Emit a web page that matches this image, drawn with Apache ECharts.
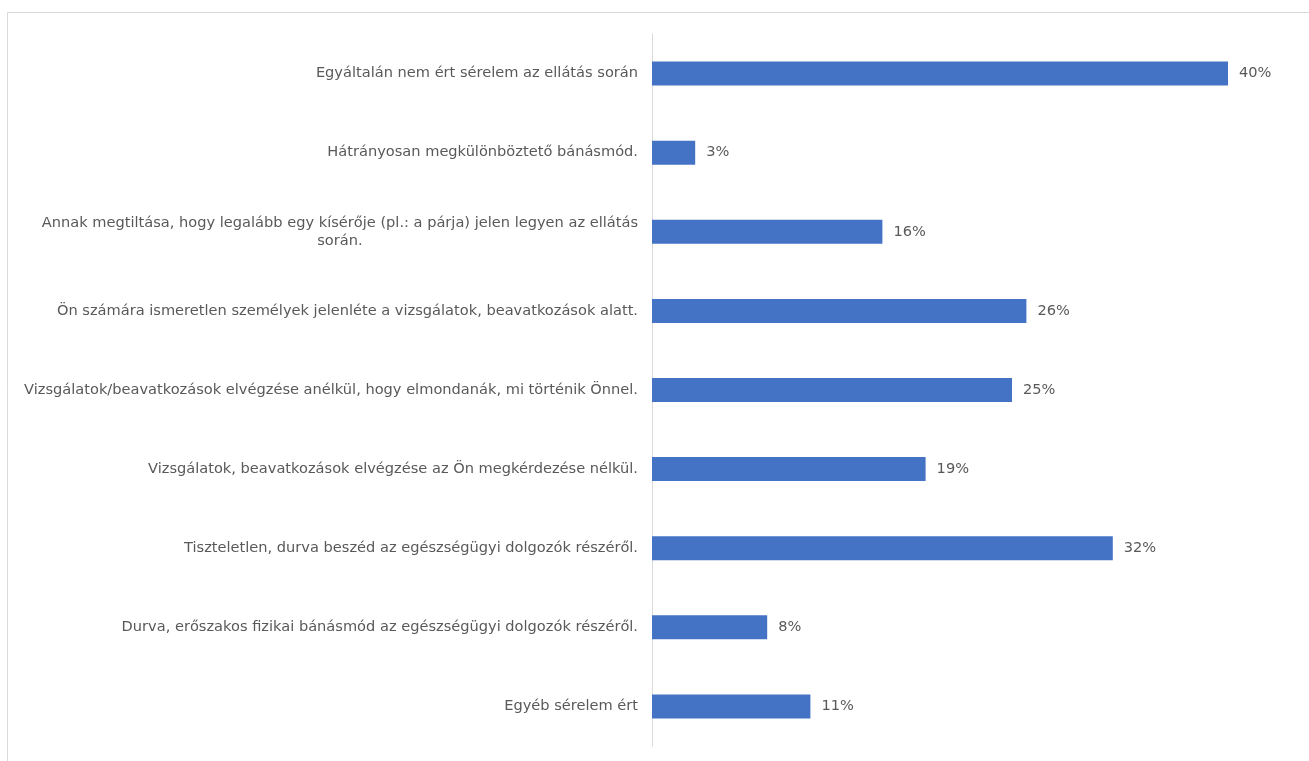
<!DOCTYPE html>
<html>
<head>
<meta charset="utf-8">
<style>
  html, body { margin: 0; padding: 0; background: #ffffff; }
  #chart { width: 1309px; height: 761px; }
</style>
<script src="https://cdn.jsdelivr.net/npm/echarts@6/dist/echarts.min.js"></script>
</head>
<body>
<div id="chart"></div>
<script>
// Survey answers: kinds of harm experienced during care (share of respondents, %)
const categories = [
  'Egyáltalán nem ért sérelem az ellátás során',
  'Hátrányosan megkülönböztető bánásmód.',
  'Annak megtiltása, hogy legalább egy kísérője (pl.: a párja) jelen legyen az ellátás\nsorán.',
  'Ön számára ismeretlen személyek jelenléte a vizsgálatok, beavatkozások alatt.',
  'Vizsgálatok/beavatkozások elvégzése anélkül, hogy elmondanák, mi történik Önnel.',
  'Vizsgálatok, beavatkozások elvégzése az Ön megkérdezése nélkül.',
  'Tiszteletlen, durva beszéd az egészségügyi dolgozók részéről.',
  'Durva, erőszakos fizikai bánásmód az egészségügyi dolgozók részéről.',
  'Egyéb sérelem ért'
];
const values = [40, 3, 16, 26, 25, 19, 32, 8, 11];

const textColor = '#595959';
const fontFamily = '"DejaVu Sans", sans-serif';
const fontSize = 14.6;

const chart = echarts.init(document.getElementById('chart'), null, { renderer: 'canvas' });

chart.setOption({
  animation: false,
  backgroundColor: '#ffffff',
  graphic: [{
    type: 'rect',
    shape: { x: 7.5, y: 12.5, width: 1400, height: 800 },
    style: { fill: 'none', stroke: '#d9d9d9', lineWidth: 1 },
    silent: true
  }],
  grid: { left: 652, top: 34, width: 648, bottom: 15, containLabel: false },
  xAxis: {
    type: 'value',
    min: 0,
    max: 45,
    show: false
  },
  yAxis: {
    type: 'category',
    inverse: true,
    data: categories,
    axisLine: { show: true, lineStyle: { color: '#d9d9d9', width: 1 } },
    axisTick: { show: false },
    axisLabel: {
      margin: 14,
      color: textColor,
      fontFamily: fontFamily,
      fontSize: fontSize,
      lineHeight: 18,
      formatter: function (v) {
        // wrapped labels keep their lines centred on each other
        return v.split('\n').map(function (l) { return '{c|' + l + '}'; }).join('\n');
      },
      rich: {
        c: { align: 'center', color: textColor, fontFamily: fontFamily, fontSize: fontSize, lineHeight: 18 }
      }
    }
  },
  series: [{
    type: 'bar',
    data: values,
    barWidth: 24,
    itemStyle: { color: '#4472c4' },
    label: {
      show: true,
      position: 'right',
      distance: 11,
      formatter: '{c}%',
      color: textColor,
      fontFamily: fontFamily,
      fontSize: fontSize
    }
  }]
});
</script>
</body>
</html>
